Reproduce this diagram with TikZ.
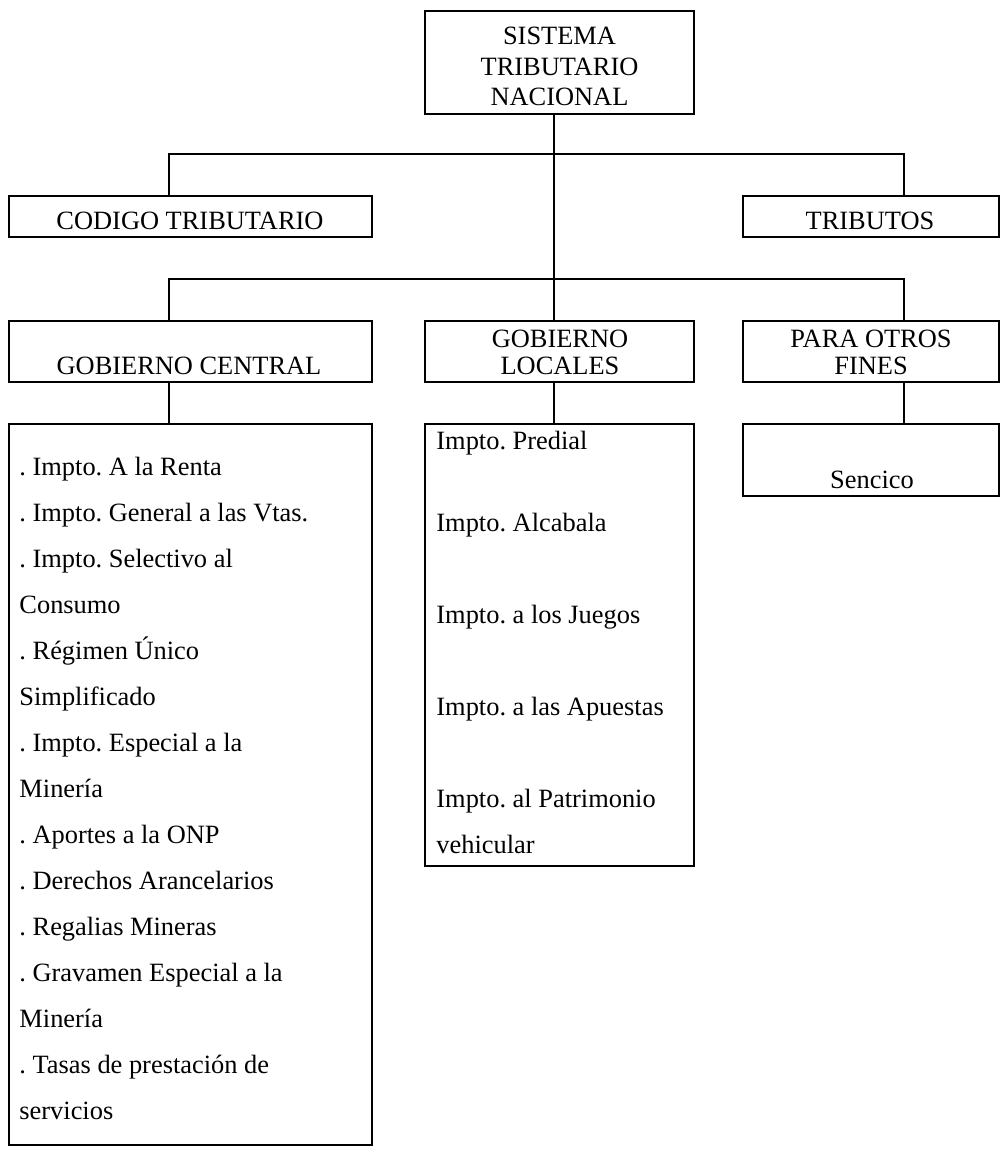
\documentclass[tikz,border=0pt]{standalone}
\usepackage{fontspec}
\setmainfont{Liberation Serif}
\usepackage{tikz}
\usetikzlibrary{fit}
\frenchspacing

\begin{document}
\begin{tikzpicture}[x=0.4545pt, y=-0.4545pt,
    caja/.style={draw, line width=0.85pt, inner sep=0pt, rectangle},
    linea/.style={line width=0.85pt},
    txt/.style={inner sep=0pt, anchor=base, font=\fontsize{12}{14}\selectfont},
    txtw/.style={txt, anchor=base west}]
\useasboundingbox (0,0) rectangle (1001,1151);
% cajas
\node[caja, fit={(425,11) (694,114)}] (sist) {}; % Sistema.0
\node[caja, fit={(9,196) (372,237)}] (cod) {}; % Codigo.0
\node[caja, fit={(743,196) (999,237)}] (trib) {}; % Tributos.0
\node[caja, fit={(9,321) (372,382)}] (cen) {}; % Central.0
\node[caja, fit={(425,321) (694,382)}] (loc) {}; % Locales.0
\node[caja, fit={(743,321) (999,382)}] (fin) {}; % Fines.0
\node[caja, fit={(9,424) (372,1145)}] (cenL) {}; % Central.1
\node[caja, fit={(425,424) (694,866)}] (locL) {}; % Locales.1
\node[caja, fit={(743,424) (999,496)}] (finL) {}; % Fines.1
% ramas
\coordinate (eje) at (554,0);
\coordinate (b1l) at (169,154);
\coordinate (b1r) at (904,154);
\coordinate (b2l) at (169,279);
\coordinate (b2r) at (904,279);
\draw[linea] (eje |- sist.south) -- (eje |- loc.north); % tronco
\draw[linea] (b1l |- cod.north) -- (b1l) -- (b1r) -- (b1r |- trib.north); % rama1
\draw[linea] (b2l |- cen.north) -- (b2l) -- (b2r) -- (b2r |- fin.north); % rama2
\draw[linea] (b2l |- cen.south) -- (b2l |- cenL.north); % Central.2
\draw[linea] (eje |- loc.south) -- (eje |- locL.north); % Locales.2
\draw[linea] (b2r |- fin.south) -- (b2r |- finL.north); % Fines.2
% textos
\node[txt] (s1) at (559.5,45) {SISTEMA}; % Sistema.0
\node[txt] (s2) at (559.5,76) {TRIBUTARIO}; % Sistema.0
\node[txt] (s3) at (559.5,106) {NACIONAL}; % Sistema.0
\node[txt] (c1) at (190,230) {CODIGO TRIBUTARIO}; % Codigo.0
\node[txt] (r1) at (870,230) {TRIBUTOS}; % Tributos.0
\node[txt] (g1) at (189,375) {GOBIERNO CENTRAL}; % Central.0
\node[txt] (l1) at (560,347) {GOBIERNO}; % Locales.0
\node[txt] (l2) at (560,375) {LOCALES}; % Locales.0
\node[txt] (f1) at (871,347) {PARA OTROS}; % Fines.0
\node[txt] (f2) at (871,375) {FINES}; % Fines.0
\node[txt] (f3) at (872,488) {Sencico}; % Fines.1
\node[txtw] (a1) at (19,475) {. Impto. A la Renta}; % Central.1
\node[txtw] (a2) at (19,521) {. Impto. General a las Vtas.}; % Central.1
\node[txtw] (a3) at (19,567) {. Impto. Selectivo al}; % Central.1
\node[txtw] (a4) at (19,613) {Consumo}; % Central.1
\node[txtw] (a5) at (19,659) {. Régimen Único}; % Central.1
\node[txtw] (a6) at (19,705) {Simplificado}; % Central.1
\node[txtw] (a7) at (19,751) {. Impto. Especial a la}; % Central.1
\node[txtw] (a8) at (19,797) {Minería}; % Central.1
\node[txtw] (a9) at (19,843) {. Aportes a la ONP}; % Central.1
\node[txtw] (a10) at (19,889) {. Derechos Arancelarios}; % Central.1
\node[txtw] (a11) at (19,935) {. Regalias Mineras}; % Central.1
\node[txtw] (a12) at (19,981) {. Gravamen Especial a la}; % Central.1
\node[txtw] (a13) at (19,1027) {Minería}; % Central.1
\node[txtw] (a14) at (19,1073) {. Tasas de prestación de}; % Central.1
\node[txtw] (a15) at (19,1119) {servicios}; % Central.1
\node[txtw] (m1) at (436,449) {Impto. Predial}; % Locales.1
\node[txtw] (m2) at (436,531) {Impto. Alcabala}; % Locales.1
\node[txtw] (m3) at (436,623) {Impto. a los Juegos}; % Locales.1
\node[txtw] (m4) at (436,715) {Impto. a las Apuestas}; % Locales.1
\node[txtw] (m5) at (436,807) {Impto. al Patrimonio}; % Locales.1
\node[txtw] (m6) at (436,853) {vehicular}; % Locales.1
\end{tikzpicture}
\end{document}
